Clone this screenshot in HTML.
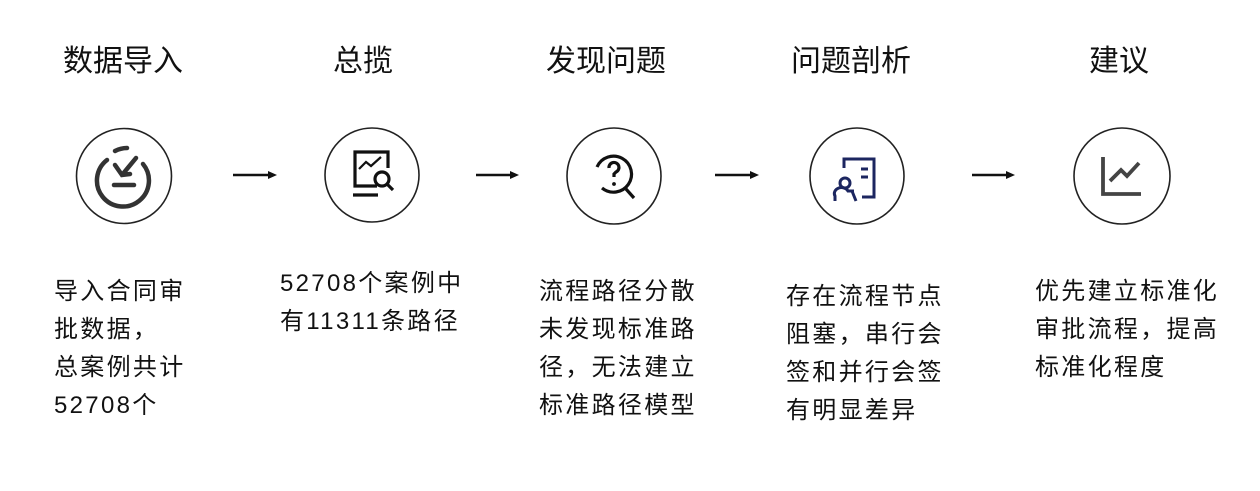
<!DOCTYPE html>
<html><head><meta charset="utf-8"><style>
body{margin:0;width:1260px;height:491px;background:#fff;position:relative;overflow:hidden;font-family:"Liberation Sans","Noto Sans CJK SC",sans-serif;color:#111}
.t{position:absolute;top:36px;font-size:30px;white-space:nowrap;transform:translateX(-50%)}
.b{position:absolute;font-size:24px;line-height:38px;letter-spacing:2.3px;white-space:nowrap}
svg{position:absolute;left:0;top:0}
</style></head><body>
<div class="t" style="left:123px">数据导入</div>
<div class="t" style="left:363px">总揽</div>
<div class="t" style="left:606px">发现问题</div>
<div class="t" style="left:851px">问题剖析</div>
<div class="t" style="left:1119px">建议</div>
<svg width="1260" height="491">
<g fill="none" stroke="#222" stroke-width="1.6">
<circle cx="124" cy="176" r="47.5"/>
<circle cx="372" cy="175" r="47"/>
<ellipse cx="614" cy="176" rx="47" ry="48"/>
<ellipse cx="857" cy="176" rx="47" ry="48"/>
<ellipse cx="1122" cy="176" rx="48" ry="48"/>
</g>
<g stroke="#111" stroke-width="2.5">
<line x1="233" y1="175" x2="270" y2="175"/><line x1="476" y1="175" x2="512" y2="175"/>
<line x1="715" y1="175" x2="752" y2="175"/><line x1="972" y1="175" x2="1008" y2="175"/>
</g>
<g fill="#111">
<polygon points="268,171 277,175 268,179"/><polygon points="510,171 519,175 510,179"/>
<polygon points="750,171 759,175 750,179"/><polygon points="1006,171 1015,175 1006,179"/>
</g>
<!-- icon1 -->
<g fill="none" stroke="#333" stroke-width="4.5" stroke-linecap="round">
<path d="M107,160 A26,26 0 1 0 143,164"/>
<path d="M115,151 A26,26 0 0 1 127,148"/>
<path d="M136,158 L122,175 M115,165 L122,175 L130,174"/>
<line x1="114" y1="185" x2="134" y2="185"/>
</g>
<!-- icon2 -->
<g fill="none" stroke="#111" stroke-width="3.2">
<path d="M377,186 L355,186 L355,152 L388,152 L388,168"/>
<path d="M359,169 L366,162 L371,166 L381,157" stroke-width="2.2"/>
<circle cx="382" cy="179" r="7"/><line x1="387" y1="184" x2="393" y2="190"/>
<line x1="353" y1="195" x2="378" y2="195"/>
</g>
<!-- icon3 -->
<g fill="none" stroke="#111" stroke-width="3.2">
<path d="M597,167 A18,18 0 1 1 602,188"/>
<line x1="626" y1="189" x2="634" y2="198"/>
<path d="M609,168 a5,5 0 1 1 7,4 l-2,2 v3"/>
</g>
<circle cx="614" cy="184" r="1.9" fill="#111"/>
<!-- icon4 -->
<g fill="none" stroke="#1c2660" stroke-width="3">
<path d="M844,168 L844,159 L874,159 L874,197 L862,197"/>
<line x1="861" y1="169" x2="868" y2="169"/><line x1="861" y1="177" x2="868" y2="177"/>
<circle cx="845" cy="183" r="5"/>
<path d="M835,201 L835,196 A6,5 0 0 1 848,191 L854,191 M852,191 L856,201"/>
</g>
<!-- icon5 -->
<g fill="none" stroke="#444" stroke-width="3.8">
<path d="M1103,157 L1103,194 L1141,194"/>
<path d="M1110,181 L1121,170 L1127,176 L1139,163"/>
</g>
</svg>
<div class="b" style="left:54px;top:273px">导入合同审<br>批数据，<br>总案例共计<br>52708个</div>
<div class="b" style="left:280px;top:265px">52708个案例中<br>有11311条路径</div>
<div class="b" style="left:539px;top:273px">流程路径分散<br>未发现标准路<br>径，无法建立<br>标准路径模型</div>
<div class="b" style="left:786px;top:278px">存在流程节点<br>阻塞，串行会<br>签和并行会签<br>有明显差异</div>
<div class="b" style="left:1035px;top:273px">优先建立标准化<br>审批流程，提高<br>标准化程度</div>
</body></html>
